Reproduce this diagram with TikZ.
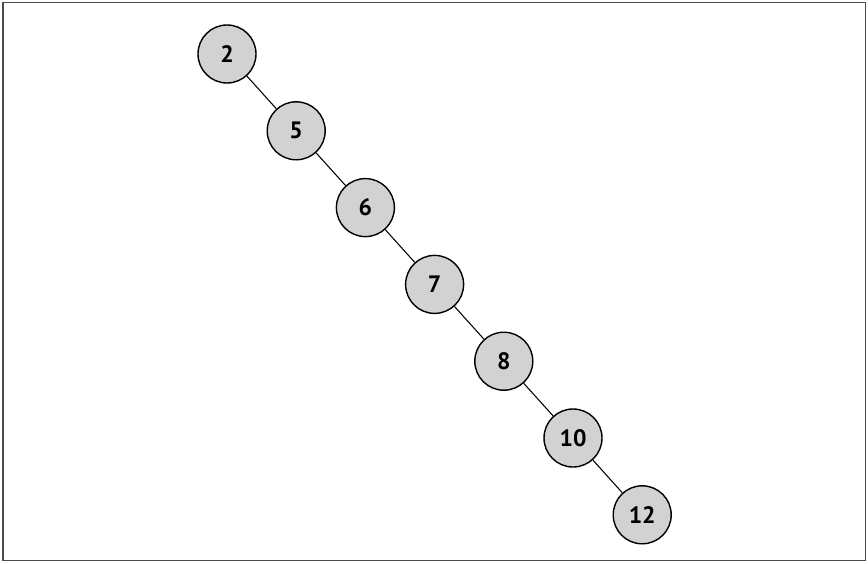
\documentclass[tikz,border=0pt]{standalone}
\usepackage{fontspec}
\setmainfont{PT Sans}
\usetikzlibrary{positioning}

\begin{document}
\begin{tikzpicture}[
  font=\bfseries\fontsize{13.5}{15}\selectfont,
  key/.style={circle, draw, line width=0.8pt, fill=gray!35, minimum size=11.6mm, inner sep=0pt},
  edge/.style={line width=0.6pt},
  node distance=15.36mm and 13.84mm, on grid,
]

% --- frame ---
\useasboundingbox (0,0) rectangle (17.36,-11.26);
\draw[gray!60!black, line width=0.9pt] (0.06,-0.05) rectangle (17.31,-11.21);

% --- keys, a right-leaning chain ---
\node[key] (k2) at (4.54,-1.08) {2};
\node[key, below right=of k2] (k5) {5};
\node[key, below right=of k5] (k6) {6};
\node[key, below right=of k6] (k7) {7};
\node[key, below right=of k7] (k8) {8};
\node[key, below right=of k8] (k10) {10};
\node[key, below right=of k10] (k12) {12};

% --- links ---
\draw[edge] (k2) -- (k5);
\draw[edge] (k5) -- (k6);
\draw[edge] (k6) -- (k7);
\draw[edge] (k7) -- (k8);
\draw[edge] (k8) -- (k10);
\draw[edge] (k10) -- (k12);

\end{tikzpicture}
\end{document}
